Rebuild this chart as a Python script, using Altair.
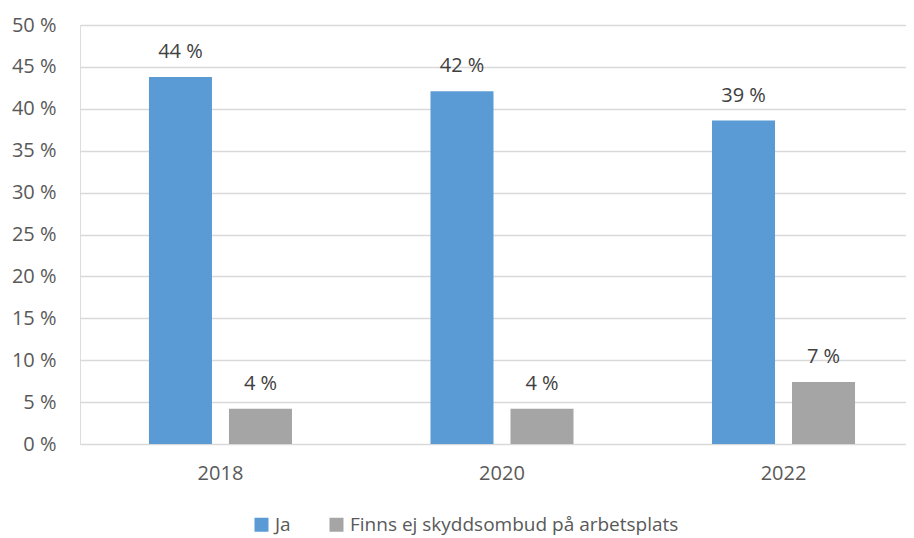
import altair as alt
import pandas as pd

years = ["2018", "2020", "2022"]
series = ["Ja", "Finns ej skyddsombud på arbetsplats"]
ja_values = [43.8, 42.1, 38.6]
finns_ej_values = [4.2, 4.2, 7.4]
colors = ["#5b9bd5", "#a5a5a5"]

rows = []
for i, y in enumerate(years):
    rows.append({"year": y, "series": series[0], "value": ja_values[i]})
    rows.append({"year": y, "series": series[1], "value": finns_ej_values[i]})
df = pd.DataFrame(rows)
df["label"] = df["value"].round(0).astype(int).astype(str) + " %"

FONT = "Open Sans"

x = alt.X("year:N", title=None,
          scale=alt.Scale(paddingInner=0.492, paddingOuter=0.213, align=0.575),
          axis=alt.Axis(labelAngle=0, labelFontSize=20, labelColor="#595959", labelFont=FONT,
                        ticks=False, domain=False, labelPadding=19))
xoff = alt.XOffset("series:N", sort=series,
                   scale=alt.Scale(paddingInner=0.2125, paddingOuter=0))
y = alt.Y("value:Q", title=None,
          scale=alt.Scale(domain=[0, 50], nice=False),
          axis=alt.Axis(values=list(range(0, 55, 5)), labelExpr="datum.value + ' %'",
                        labelFontSize=20, labelColor="#595959", labelFont=FONT,
                        ticks=False, domain=False, gridColor="#d9d9d9", gridWidth=1.5,
                        labelPadding=24))

base = alt.Chart(df).encode(x=x, xOffset=xoff)

bars = base.mark_bar().encode(
    y=y,
    color=alt.Color("series:N", sort=series,
                    scale=alt.Scale(domain=series, range=colors),
                    legend=alt.Legend(title=None, orient="none", legendX=172, legendY=490,
                                      direction="horizontal", symbolType="square",
                                      symbolSize=196, symbolStrokeWidth=0,
                                      labelFontSize=19, labelColor="#595959", labelFont=FONT,
                                      columnPadding=36, labelLimit=600)),
)

labels = base.mark_text(baseline="alphabetic", dy=-19, fontSize=20, color="#404040", font=FONT).encode(
    y=alt.Y("value:Q"),
    text="label:N",
)

chart = (bars + labels).properties(
    width=826, height=419,
    autosize=alt.AutoSizeParams(type="none"),
    padding={"left": 72, "top": 17, "right": 0, "bottom": 94},
).configure_view(stroke=None).configure(background="white")

chart.save("out.html", embed_options={"renderer": "svg", "actions": False})
